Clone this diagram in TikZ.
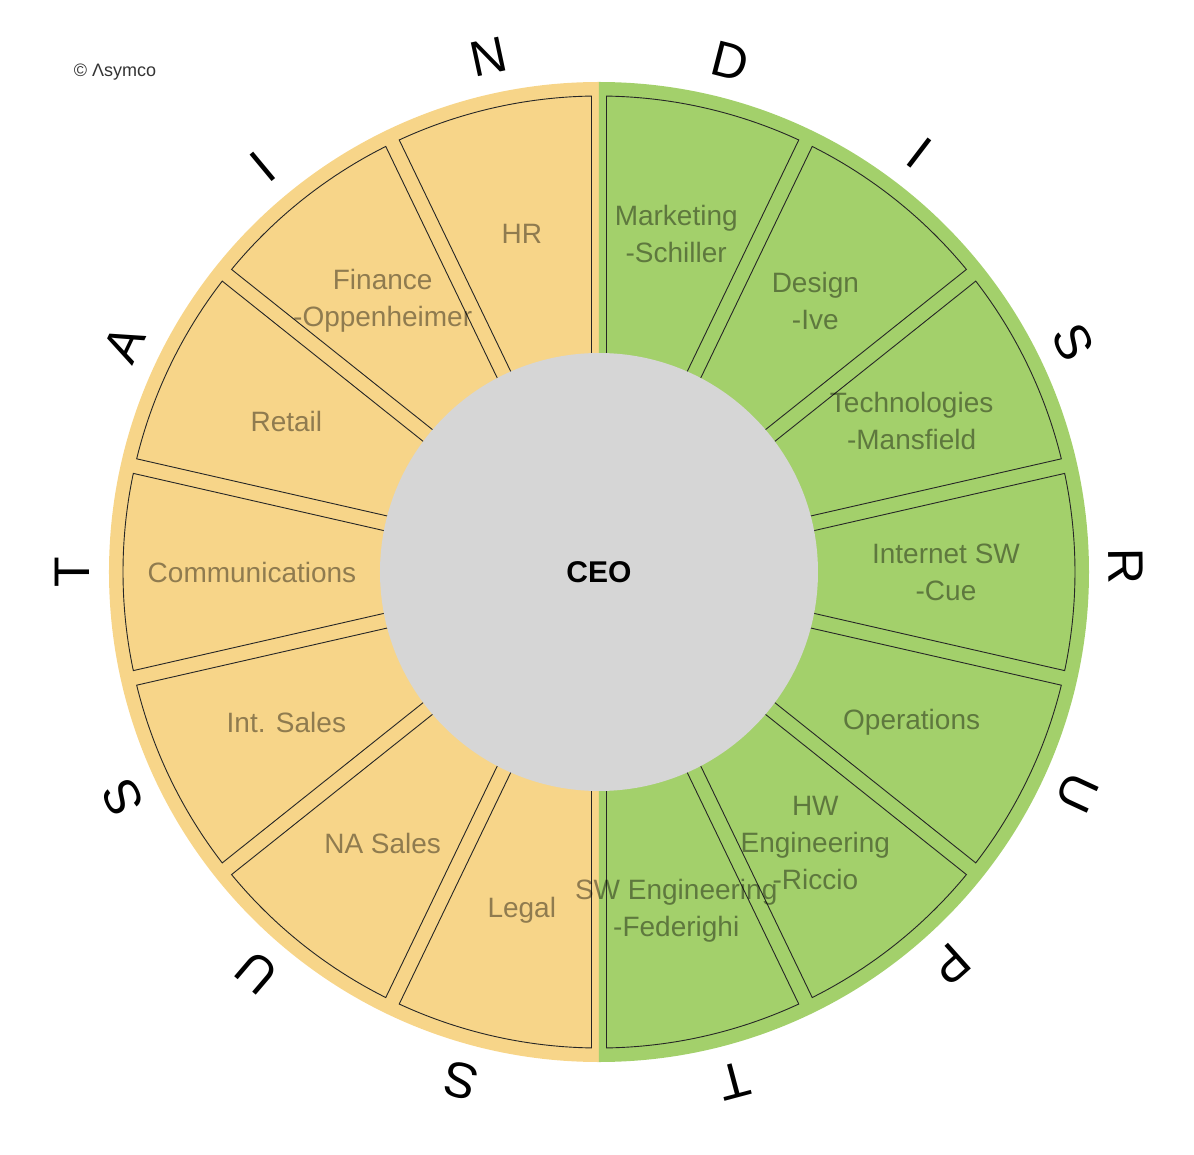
\documentclass[tikz,border=0pt]{standalone}
\usepackage{fontspec}
\setmainfont{Liberation Sans}
\usepackage{tikz}
\definecolor{sustainC}{RGB}{247,213,137}
\definecolor{disruptC}{RGB}{163,208,107}
\definecolor{ceoC}{RGB}{214,214,214}
\tikzset{
  sectorS/.style={draw=black!85, line width=0.9pt},
  dept/.style   ={text=black, text opacity=0.42, inner sep=0pt, align=center,
                  font=\fontsize{28}{37}\selectfont},
  ringL/.style  ={inner sep=0pt, font=\fontsize{50}{50}\selectfont},
  ceo/.style    ={circle, fill=ceoC, minimum size=438pt, inner sep=0pt,
                  font=\fontsize{30}{30}\selectfont\bfseries},
  credit/.style ={inner sep=0pt, text=black!80, font=\fontsize{18}{18}\selectfont},
}

\begin{document}
\begin{tikzpicture}[x=1pt, y=1pt]
  \useasboundingbox (-599,-582) rectangle (595,572);
  \fill[sustainC] (0,490) arc[start angle=90, end angle=270, radius=490] -- cycle;
  \fill[disruptC] (0,490) arc[start angle=90, end angle=-90, radius=490] -- cycle;
  \foreach \i in {0,...,13}{
    \pgfmathsetmacro\lo{-90+\i*180/7}
    \pgfmathsetmacro\hi{\lo+180/7}
    \draw[sectorS] ({\lo+2.39}:180) -- ({\lo+0.9}:476)
      arc[start angle=\lo+0.9, end angle=\hi-0.9, radius=476] -- ({\hi-2.39}:180) -- cycle;
  }
  \node[ceo] (ceo) at (0,0) {CEO};
  \foreach \nm/\ang/\txt in {mkt/77.14/{Marketing\\-Schiller}, dsg/51.43/{Design\\-Ive},
      tech/25.71/{Technologies\\-Mansfield}, isw/0/{Internet SW\\-Cue}, ops/-25.71/{Operations},
      hw/-51.43/{HW\\Engineering\\-Riccio}, sw/-77.14/{SW Engineering\\-Federighi},
      hr/102.86/{HR}, fin/128.57/{Finance\\-Oppenheimer}, ret/154.29/{Retail},
      com/180/{Communications}, isl/205.71/{Int. Sales}, nas/231.43/{NA Sales}, leg/257.14/{Legal}}
    \node[dept] (\nm) at (\ang:347) {\txt};
  \foreach \ch/\a [count=\k] in {D/75.6, I/52.6, S/25.9, R/0.6, U/-24.8, P/-48.2, T/-75.1}
    \node[ringL, rotate=\a-90] (dis\k) at (\a:527) {\ch};
  \foreach \ch/\a [count=\k] in {S/254.8, U/229.5, S/205.4, T/180, A/154.4, I/129.7, N/102.1}
    \node[ringL, rotate=\a-90] (sus\k) at (\a:527) {\ch};
  \node[credit] (copy) at (-484,500) {© Λsymco};
\end{tikzpicture}
\end{document}
